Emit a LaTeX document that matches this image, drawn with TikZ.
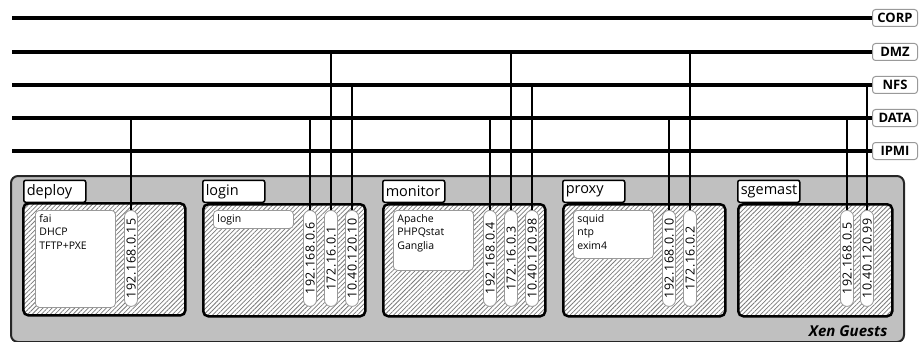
\documentclass[tikz,border=0pt]{standalone}
\usepackage{fontspec}
\setmainfont{Open Sans}
\usetikzlibrary{positioning,calc,patterns.meta}
\definecolor{XenGrey}{HTML}{C0C0C0}
\definecolor{HatchGrey}{HTML}{7A7A7A}
\definecolor{EdgeGrey}{HTML}{999999}
% service list, top aligned in a box of fixed height
\newcommand{\svclist}[2]{\parbox[c][#1][t]{72pt}{#2}}

\begin{document}
\begin{tikzpicture}[x=1pt,y=-1pt,
  bus/.style={line width=4pt,black},
  netlabel/.style={draw=EdgeGrey,fill=white,line width=1pt,rounded corners=3pt,
    anchor=east,minimum width=45pt,minimum height=17pt,inner sep=1pt,
    font=\bfseries\fontsize{13}{13}\selectfont},
  guest/.style={draw=black,line width=2.5pt,rounded corners=5pt,anchor=north west,
    minimum width=162pt,minimum height=112pt,inner sep=0pt,preaction={fill=white},
    pattern={Lines[angle=45,distance=3.2pt,line width=0.75pt]},pattern color=HatchGrey},
  vmtab/.style={draw=black,fill=white,line width=1.5pt,rounded corners=2pt,anchor=south west,
    text width=56pt,minimum height=22pt,inner xsep=3pt,inner ysep=0pt,align=left,
    font=\fontsize{14.5}{14.5}\selectfont},
  svc/.style={draw=EdgeGrey,fill=white,line width=0.8pt,rounded corners=4pt,anchor=north west,
    inner sep=4pt,font=\fontsize{10.5}{13.5}\selectfont},
  ip/.style={draw=EdgeGrey,fill=white,line width=0.8pt,rounded corners=6.5pt,rotate=90,anchor=east,
    minimum width=96pt,minimum height=13pt,inner sep=0pt,text depth=0pt,
    font=\fontsize{12.5}{12.5}\selectfont\addfontfeature{LetterSpace=4}},
  link/.style={line width=2pt,black}]
  \useasboundingbox (0,0) rectangle (920,342);

  % networks
  \node[netlabel] (corp) at (918,18) {CORP};
  \node[netlabel] (dmz) at (918,52) {DMZ};
  \node[netlabel] (nfs) at (918,85) {NFS};
  \node[netlabel] (data) at (918,118) {DATA};
  \node[netlabel] (ipmi) at (918,151) {IPMI};
  \coordinate (corpstart) at (12,18);
  \coordinate (dmzstart) at (12,52);
  \coordinate (nfsstart) at (12,85);
  \coordinate (datastart) at (12,118);
  \coordinate (ipmistart) at (12,151);
  \draw[bus] (corpstart) -- (corp.west);
  \draw[bus] (dmzstart) -- (dmz.west);
  \draw[bus] (nfsstart) -- (nfs.west);
  \draw[bus] (datastart) -- (data.west);
  \draw[bus] (ipmistart) -- (ipmi.west);

  % xen host
  \node[draw=black!85,fill=XenGrey,line width=2pt,rounded corners=7pt,anchor=north west,
        minimum width=893pt,minimum height=166pt,inner sep=0pt] (xen) at (10,175) {};
  \node[anchor=base east,font=\bfseries\itshape\fontsize{15}{15}\selectfont] (xenlabel)
        at (891,336) {Xen Guests};

  % deploy
  \node[guest] (deploy) at (23,203) {};
  \node[vmtab] (deploytab) at (deploy.north west) {deploy};
  \node[svc] (deploysvc) at ($(deploy.north west)+(12,7)$) {\svclist{89pt}{fai\\DHCP\\TFTP+PXE}};
  \node[ip] (deploy-data) at (131,210) {192.168.0.15};

  % login
  \node[guest] (login) at (202,203) {};
  \node[vmtab] (logintab) at (login.north west) {login};
  \node[svc] (loginsvc) at ($(login.north west)+(11,7)$) {\svclist{10pt}{login}};
  \node[ip] (login-data) at (310,210) {192.168.0.6};
  \node[ip] (login-dmz) at (331,210) {172.16.0.1};
  \node[ip] (login-nfs) at (352,210) {10.40.120.10};

  % monitor
  \node[guest] (monitor) at (382,203) {};
  \node[vmtab] (monitortab) at (monitor.north west) {monitor};
  \node[svc] (monitorsvc) at ($(monitor.north west)+(11,7)$) {\svclist{52pt}{Apache\\PHPQstat\\Ganglia}};
  \node[ip] (monitor-data) at (490,210) {192.168.0.4};
  \node[ip] (monitor-dmz) at (511,210) {172.16.0.3};
  \node[ip] (monitor-nfs) at (532,210) {10.40.120.98};

  % proxy
  \node[guest] (proxy) at (562,203) {};
  \node[vmtab] (proxytab) at (proxy.north west) {proxy};
  \node[svc] (proxysvc) at ($(proxy.north west)+(11,7)$) {\svclist{40pt}{squid\\ntp\\exim4}};
  \node[ip] (proxy-data) at (669,210) {192.168.0.10};
  \node[ip] (proxy-dmz) at (690,210) {172.16.0.2};

  % sgemast
  \node[guest,minimum width=154pt] (sgemast) at (737,203) {};
  \node[vmtab] (sgemasttab) at (sgemast.north west) {sgemast};
  \node[ip] (sgemast-data) at (847,210) {192.168.0.5};
  \node[ip] (sgemast-nfs) at (867,210) {10.40.120.99};

  % uplinks
  \draw[link] (deploy-data.east) -- (deploy-data.east |- data.west);
  \draw[link] (login-data.east) -- (login-data.east |- data.west);
  \draw[link] (login-dmz.east) -- (login-dmz.east |- dmz.west);
  \draw[link] (login-nfs.east) -- (login-nfs.east |- nfs.west);
  \draw[link] (monitor-data.east) -- (monitor-data.east |- data.west);
  \draw[link] (monitor-dmz.east) -- (monitor-dmz.east |- dmz.west);
  \draw[link] (monitor-nfs.east) -- (monitor-nfs.east |- nfs.west);
  \draw[link] (proxy-data.east) -- (proxy-data.east |- data.west);
  \draw[link] (proxy-dmz.east) -- (proxy-dmz.east |- dmz.west);
  \draw[link] (sgemast-data.east) -- (sgemast-data.east |- data.west);
  \draw[link] (sgemast-nfs.east) -- (sgemast-nfs.east |- nfs.west);
\end{tikzpicture}
\end{document}
